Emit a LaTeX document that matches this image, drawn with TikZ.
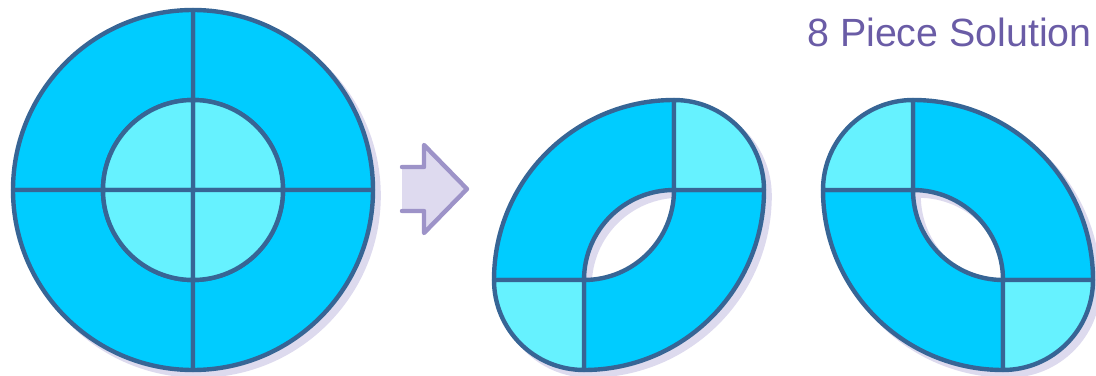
\documentclass[tikz,border=0pt]{standalone}
\usepackage{fontspec}
\setmainfont{Liberation Sans}
\usetikzlibrary{calc}

\definecolor{ringblue}{HTML}{00CCFF}
\definecolor{coreblue}{HTML}{66F2FF}
\definecolor{edgeblue}{HTML}{376595}
\definecolor{shade}{HTML}{DDDAEE}
\definecolor{arrowfill}{HTML}{DEDAEF}
\definecolor{arrowedge}{HTML}{9D93C8}
\definecolor{titlepurple}{HTML}{6A5CA6}

\newcommand{\ringpath}[2]{($(#1)+(#2:180)$) arc[start angle=#2, delta angle=90, radius=180] -- ($(#1)+(#2+90:90)$) arc[start angle=#2+90, delta angle=-90, radius=90] -- cycle}
\newcommand{\corepath}[2]{(#1) -- ($(#1)+(#2:90)$) arc[start angle=#2, delta angle=90, radius=90] -- cycle}

\begin{document}
\begin{tikzpicture}[x=0.025cm, y=0.025cm,
    piece/.style={draw=edgeblue, line width=0.11cm, line join=round},
    ring/.style={piece, fill=ringblue},
    core/.style={piece, fill=coreblue},
    shadow/.style={fill=shade, draw=shade, line width=0.11cm, transform canvas={xshift=0.14cm, yshift=-0.14cm}},
    title/.style={text=titlepurple, font=\fontsize{28}{31}\selectfont, inner sep=0pt}]

    \useasboundingbox (0,0) rectangle (1096,375);

    \coordinate (disc) at (193,185);
    \coordinate (mid-a) at (674,185);
    \coordinate (mid-b) at (674,95);
    \coordinate (mid-c) at (584,185);
    \coordinate (mid-d) at (584,95);
    \coordinate (right-a) at (913,185);
    \coordinate (right-b) at (913,95);
    \coordinate (right-c) at (1003,185);
    \coordinate (right-d) at (1003,95);

    \path[shadow] (disc) circle[radius=180];
    \foreach \c/\a in {mid-b/90, mid-c/270, right-b/0, right-c/180}
        \path[shadow] \ringpath{\c}{\a};
    \foreach \c/\a in {mid-a/0, mid-d/180, right-a/90, right-d/270}
        \path[shadow] \corepath{\c}{\a};

    \foreach \c/\a in {disc/0, disc/90, disc/180, disc/270, mid-b/90, mid-c/270, right-b/0, right-c/180}
        \path[ring] \ringpath{\c}{\a};
    \foreach \c/\a in {disc/0, disc/90, disc/180, disc/270, mid-a/0, mid-d/180, right-a/90, right-d/270}
        \path[core] \corepath{\c}{\a};

    \fill[arrowfill] (402,208) -- (424,208) -- (424,230) -- (467,186) -- (424,142) -- (424,164) -- (402,164) -- cycle;
    \draw[arrowedge, line width=0.11cm, line join=round, line cap=round]
        (402,208) -- (424,208) -- (424,230) -- (467,186) -- (424,142) -- (424,164) -- (402,164);

    \node[title, anchor=base west] (title) at (807,328) {8 Piece Solution};

\end{tikzpicture}
\end{document}
